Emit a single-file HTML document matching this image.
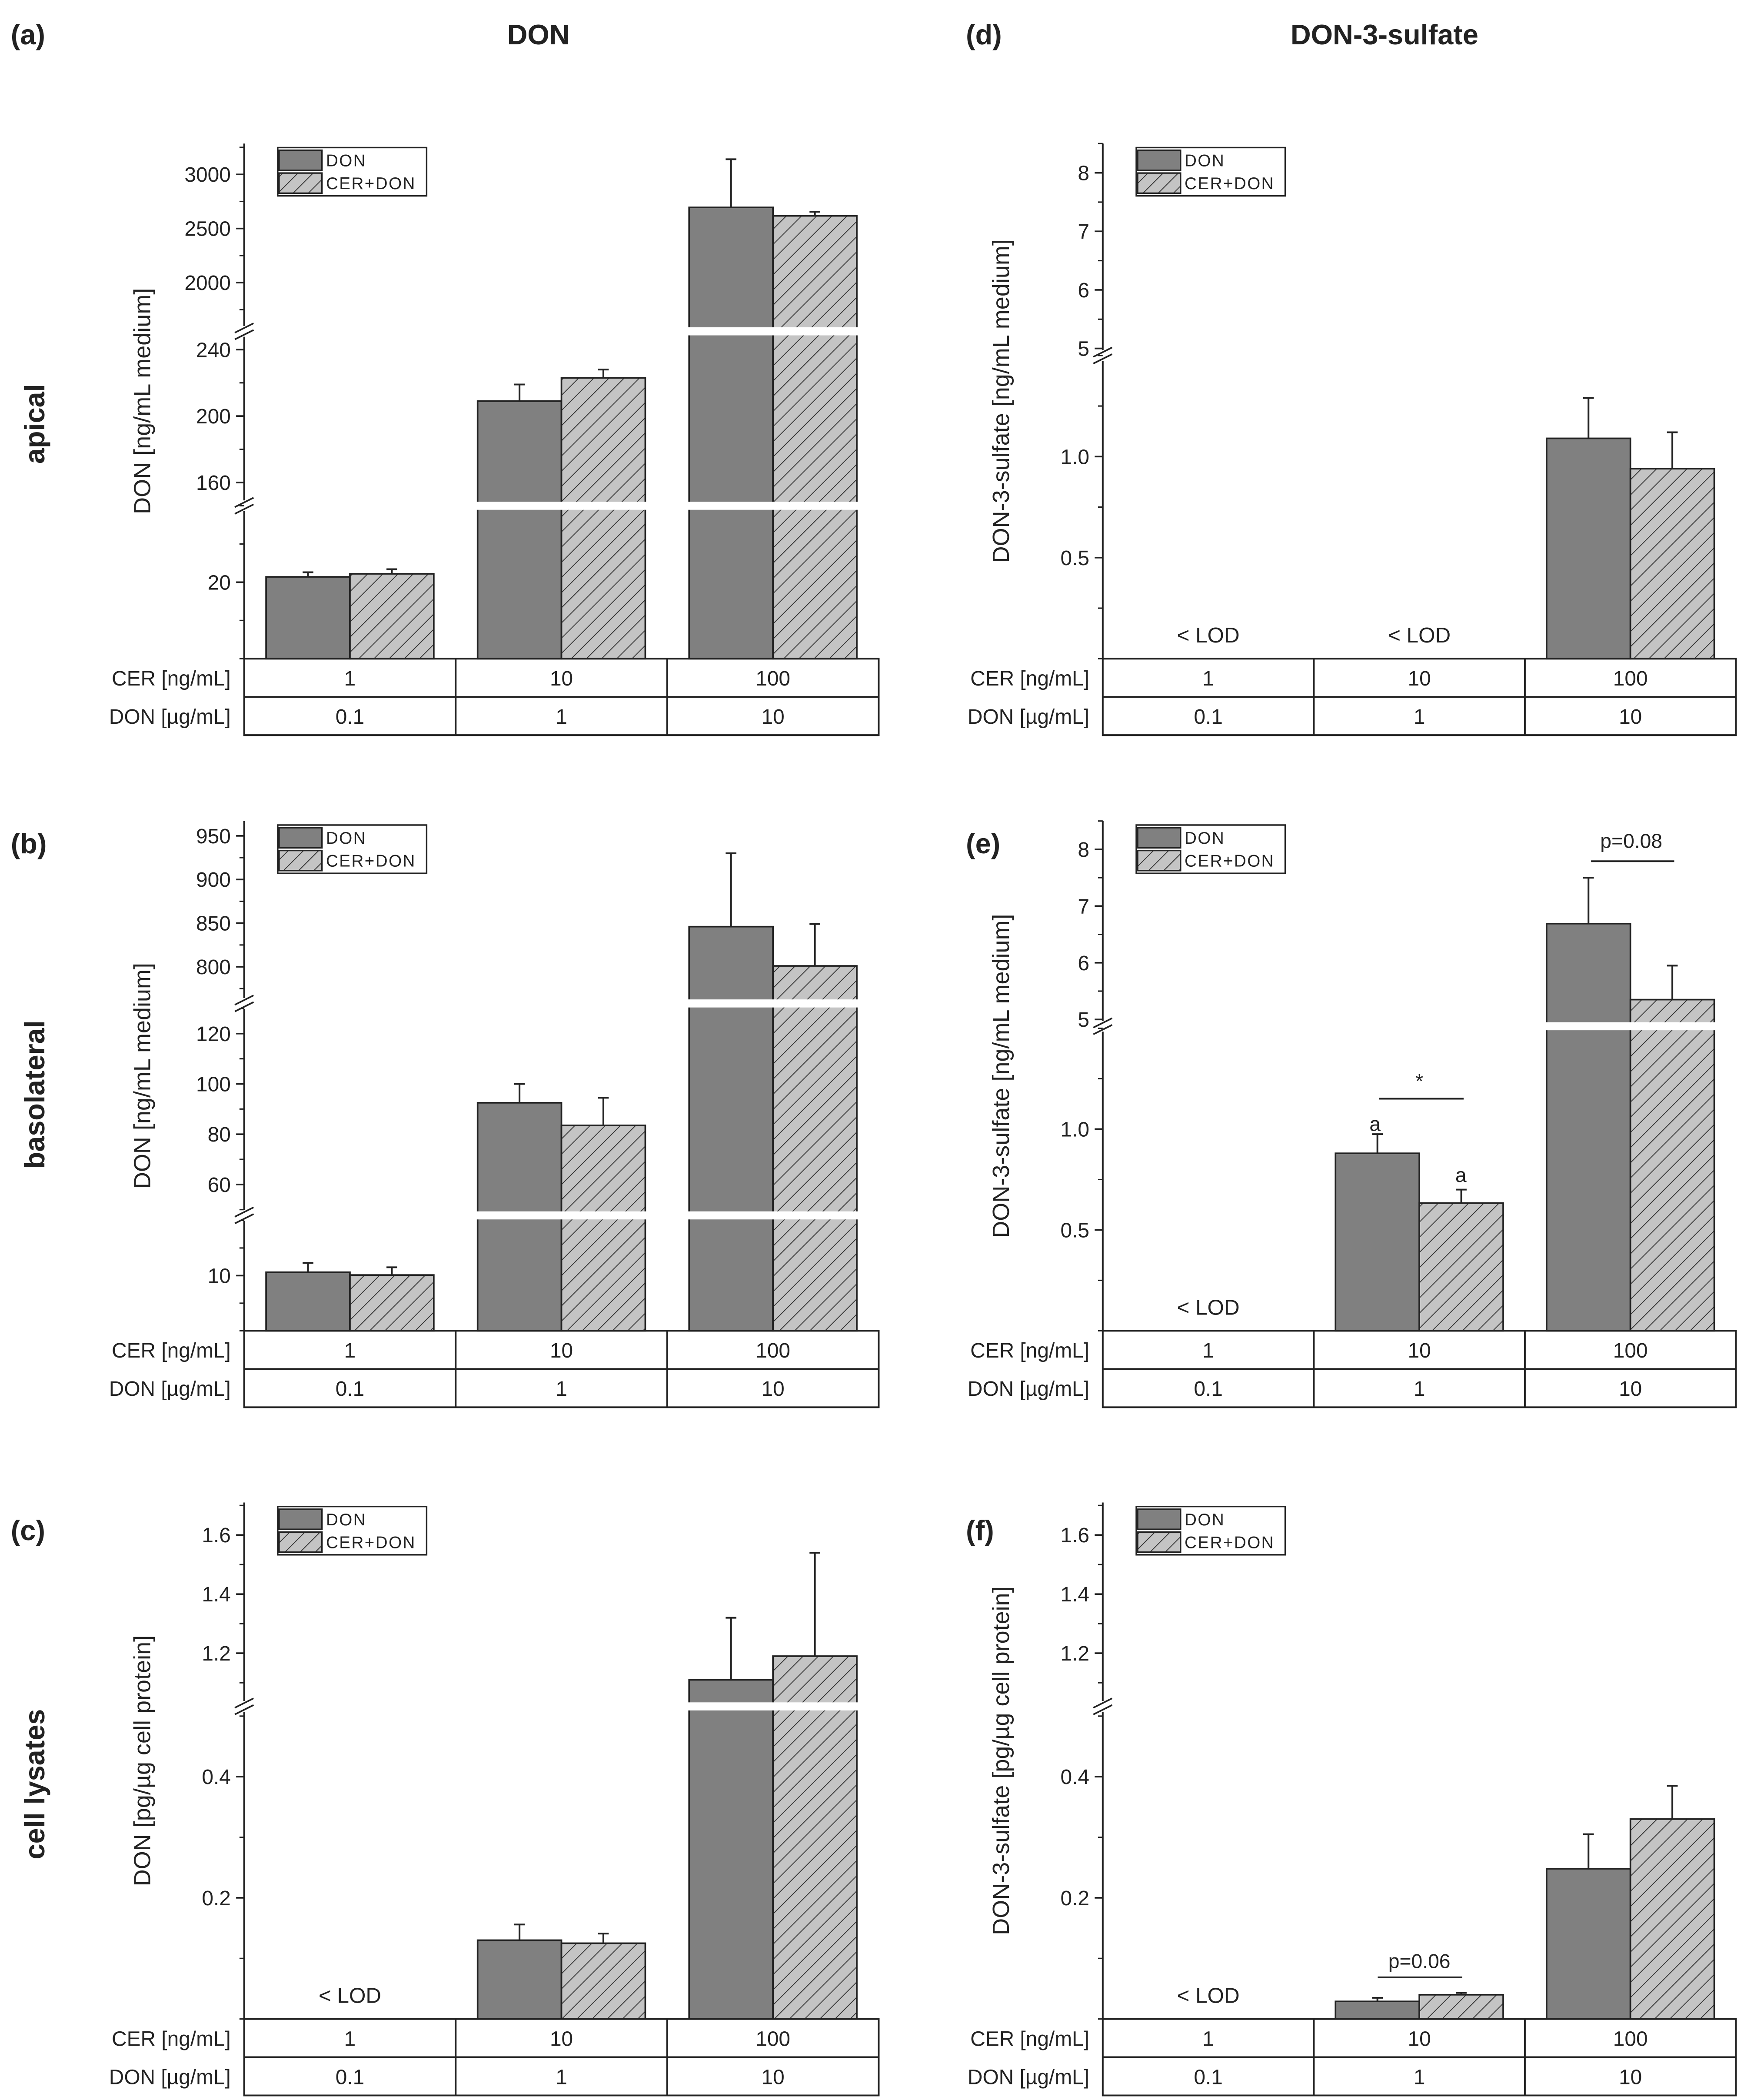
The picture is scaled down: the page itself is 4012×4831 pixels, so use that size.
<!DOCTYPE html>
<html><head><meta charset="utf-8"><style>
html,body{margin:0;padding:0;background:#fff}
svg{display:block}
text{font-family:"Liberation Sans",sans-serif;fill:#222}
</style></head><body>
<svg id="fig" xmlns="http://www.w3.org/2000/svg" width="4012" height="4831" viewBox="0 0 1300 1565.4">
<defs>
<pattern id="hatch" patternUnits="userSpaceOnUse" width="8" height="8" patternTransform="rotate(45)">
<rect width="8" height="8" fill="#c4c4c4"/>
<line x1="0" y1="0" x2="0" y2="8" stroke="#333" stroke-width="1.2"/>
</pattern>
</defs>
<g font-weight="bold">
<text x="8" y="33" font-size="21" font-weight="bold">(a)</text>
<text x="378" y="33" font-size="21" font-weight="bold">DON</text>
<text x="720" y="33" font-size="21" font-weight="bold">(d)</text>
<text x="962" y="33" font-size="21" font-weight="bold">DON-3-sulfate</text>
<text x="8" y="636" font-size="21" font-weight="bold">(b)</text>
<text x="720" y="636" font-size="21" font-weight="bold">(e)</text>
<text x="8" y="1148" font-size="21" font-weight="bold">(c)</text>
<text x="720" y="1148" font-size="21" font-weight="bold">(f)</text>
<text transform="translate(33,316) rotate(-90)" text-anchor="middle" font-size="21" font-weight="bold">apical</text>
<text transform="translate(33,816) rotate(-90)" text-anchor="middle" font-size="21" font-weight="bold">basolateral</text>
<text transform="translate(33,1330) rotate(-90)" text-anchor="middle" font-size="21" font-weight="bold">cell lysates</text>
</g>
<g id="charts"></g>
</svg>
<script>
const panelKeys = ['a','b','c','d','e','f'];
const groupCER = ['1','10','100'];
const groupDON = ['0.1','1','10'];
const donMean = [[21.4,209,2695],[10.6,92.5,846],[null,0.13,1.11],[null,null,1.09],[null,0.88,6.69],[null,0.029,0.248]];
const donErr  = [[22.6,219,3140],[12.3,100,930],[null,0.156,1.32],[null,null,1.29],[null,0.975,7.5],[null,0.035,0.305]];
const cerMean = [[22.2,223,2617],[10.1,83.5,801],[null,0.125,1.19],[null,null,0.94],[null,0.633,5.35],[null,0.04,0.33]];
const cerErr  = [[23.4,228,2655],[11.5,94.5,849],[null,0.141,1.54],[null,null,1.12],[null,0.7,5.95],[null,0.043,0.385]];
const tickVals = [[20,160,200,240,2000,2500,3000],[10,60,80,100,120,800,850,900,950],[0.2,0.4,1.2,1.4,1.6],[0.5,1.0,5,6,7,8],[0.5,1.0,5,6,7,8],[0.2,0.4,1.2,1.4,1.6]];
const tickLabels = [['20','160','200','240','2000','2500','3000'],['10','60','80','100','120','800','850','900','950'],['0.2','0.4','1.2','1.4','1.6'],['0.5','1.0','5','6','7','8'],['0.5','1.0','5','6','7','8'],['0.2','0.4','1.2','1.4','1.6']];
const yTitles = ['DON [ng/mL medium]','DON [ng/mL medium]','DON [pg/µg cell protein]','DON-3-sulfate [ng/mL medium]','DON-3-sulfate [ng/mL medium]','DON-3-sulfate [pg/µg cell protein]'];
const segs = [
 [[0,40,491,377],[146,251,377,247],[1550,3285,247,107]],
 [[0,20.9,992,906],[47.7,132,906,748],[758,967,748,612]],
 [[0,0.516,1505,1272],[1.02,1.71,1272,1120]],
 [[0,1.5,491,265],[4.88,8.5,265,107]],
 [[0,1.51,992,765],[4.88,8.5,765,612]],
 [[0,0.516,1505,1272],[1.02,1.71,1272,1120]]
];
const layout = [
 {x0:182,x1:655,yt:107,yb:491},{x0:182,x1:655,yt:612,yb:992},{x0:182,x1:655,yt:1120,yb:1505},
 {x0:822,x1:1294,yt:107,yb:491},{x0:822,x1:1294,yt:612,yb:992},{x0:822,x1:1294,yt:1120,yb:1505}
];
const NS='http://www.w3.org/2000/svg';
function mk(tag, attrs, parent){const e=document.createElementNS(NS,tag);for(const k in attrs)e.setAttribute(k,attrs[k]);parent.appendChild(e);return e;}
function yScale(p,v){const s=segs[p];for(let i=0;i<s.length;i++){const g=s[i];if(v<=g[1]||i===s.length-1){if(v<g[0]&&i>0)return g[2];return g[2]+(v-g[0])*(g[3]-g[2])/(g[1]-g[0]);}}}
const root=document.getElementById('charts');
panelKeys.forEach((k,p)=>{
 const L=layout[p];
 const g=mk('g',{},root);
 
 
 const colW=(L.x1-L.x0)/3, bw=62.5;
 const xc=i=>L.x0+colW*(i+0.5);
 for(let i=0;i<3;i++){
  if(donMean[p][i]!==null){
   const y=yScale(p,donMean[p][i]);
   const r=mk('rect',{x:xc(i)-bw,y:y,width:bw,height:L.yb-y,fill:'#808080',stroke:'#222','stroke-width':1.2},g);
   
   
   const ye=yScale(p,donErr[p][i]);
   const e=mk('path',{d:`M${xc(i)-bw/2},${y} V${ye} M${xc(i)-bw/2-4},${ye} H${xc(i)-bw/2+4}`,stroke:'#222','stroke-width':1.3,fill:'none'},g);
   
   
  }
  if(cerMean[p][i]!==null){
   const y=yScale(p,cerMean[p][i]);
   const r=mk('rect',{x:xc(i),y:y,width:bw,height:L.yb-y,fill:'url(#hatch)',stroke:'#222','stroke-width':1.2},g);
   
   
   const ye=yScale(p,cerErr[p][i]);
   const e=mk('path',{d:`M${xc(i)+bw/2},${y} V${ye} M${xc(i)+bw/2-4},${ye} H${xc(i)+bw/2+4}`,stroke:'#222','stroke-width':1.3,fill:'none'},g);
   
   
  }
  if(donMean[p][i]===null&&cerMean[p][i]===null){
   const t=mk('text',{x:xc(i),y:L.yb-12,'text-anchor':'middle','font-size':16},g);
   t.textContent='< LOD';
   
   
  }
 }
 const s=segs[p];
 for(let j=1;j<s.length;j++){
  const yb=s[j][2];
  const band=mk('rect',{x:L.x0+3,y:yb-3,width:L.x1-L.x0-3,height:6,fill:'#fff'},g);
  
  
 }
 const ax=mk('g',{},g);
 
 
 mk('path',{d:`M${L.x0},${L.yt} V${L.yb}`,stroke:'#222','stroke-width':1.3,fill:'none'},ax);
 for(let j=1;j<s.length;j++){
  const yb=s[j][2];
  mk('rect',{x:L.x0-8,y:yb-4,width:16,height:8,fill:'#fff'},ax);
  mk('path',{d:`M${L.x0-7},${yb+1} L${L.x0+7},${yb-6} M${L.x0-7},${yb+6} L${L.x0+7},${yb-1}`,stroke:'#222','stroke-width':1.2,fill:'none'},ax);
 }
 const tv=tickVals[p];
 tv.forEach((v,ti)=>{
  const y=yScale(p,v);
  mk('line',{x1:L.x0-6,x2:L.x0,y1:y,y2:y,stroke:'#222','stroke-width':1.2},ax);
  const t=mk('text',{x:L.x0-10,y:y+5.5,'text-anchor':'end','font-size':15.5},ax);
  t.textContent=tickLabels[p][ti];
  
  
 });
 s.forEach(sg=>{
  const inSeg=tv.filter(v=>v>=sg[0]&&v<=sg[1]);
  let step=inSeg.length>1?inSeg[1]-inSeg[0]:(inSeg[0]||sg[1]);
  for(let v=(inSeg[0]||0)-step*10;v<=sg[1];v+=step/2){
   if(v>=sg[0]-1e-9&&v<=sg[1]){const y=yScale(p,v);mk('line',{x1:L.x0-3.5,x2:L.x0,y1:y,y2:y,stroke:'#222','stroke-width':1},ax);}
  }
 });
 const yt=mk('text',{transform:`translate(${L.x0-70},${(L.yt+L.yb)/2}) rotate(-90)`,'text-anchor':'middle','font-size':17.5},ax);
 yt.textContent=yTitles[p];
 
 
 const tb=mk('g',{},g);
 
 
 mk('path',{d:`M${L.x0},${L.yb} H${L.x1} V${L.yb+57} H${L.x0} Z M${L.x0},${L.yb+28.5} H${L.x1} M${L.x0+colW},${L.yb} V${L.yb+57} M${L.x0+2*colW},${L.yb} V${L.yb+57}`,stroke:'#222','stroke-width':1.3,fill:'none'},tb);
 const l1=mk('text',{x:L.x0-10,y:L.yb+20,'text-anchor':'end','font-size':15.5},tb);l1.textContent='CER [ng/mL]';
 const l2=mk('text',{x:L.x0-10,y:L.yb+48.5,'text-anchor':'end','font-size':15.5},tb);l2.textContent='DON [µg/mL]';
 for(let i=0;i<3;i++){
  const a=mk('text',{x:xc(i),y:L.yb+20,'text-anchor':'middle','font-size':15.5},tb);a.textContent=groupCER[i];
  const b=mk('text',{x:xc(i),y:L.yb+48.5,'text-anchor':'middle','font-size':15.5},tb);b.textContent=groupDON[i];
 }
 const lg=mk('g',{},g);
 
 
 const lx=L.x0+25, ly=L.yt+3;
 mk('rect',{x:lx,y:ly,width:111,height:36,fill:'#fff',stroke:'#222','stroke-width':1.1},lg);
 mk('rect',{x:lx+1,y:ly+2,width:32,height:15,fill:'#808080',stroke:'#222','stroke-width':1.1},lg);
 mk('rect',{x:lx+1,y:ly+19,width:32,height:15,fill:'url(#hatch)',stroke:'#222','stroke-width':1.1},lg);
 const t1=mk('text',{x:lx+36,y:ly+14,'font-size':12.5,'letter-spacing':'0.8'},lg);t1.textContent='DON';
 const t2=mk('text',{x:lx+36,y:ly+31,'font-size':12.5,'letter-spacing':'0.8'},lg);t2.textContent='CER+DON';
});
const an=document.getElementById('charts');
function ann(x,y,txt,name){const t=mk('text',{x:x,y:y,'text-anchor':'middle','font-size':15},an);t.textContent=txt;}
function hl(x1,x2,y,name){const l=mk('line',{x1:x1,x2:x2,y1:y,y2:y,stroke:'#222','stroke-width':1.3},an);}
ann(1058,811,'*','significance-star');hl(1028,1091,819,'significance-line');
ann(1025,843,'a','letter-a-don');ann(1089,881,'a','letter-a-cer');
ann(1216,632,'p=0.08','p-value-e');hl(1186,1248,642,'p-value-line-e');
ann(1058,1467,'p=0.06','p-value-f');hl(1027,1090,1474,'p-value-line-f');
</script>
</body></html>
